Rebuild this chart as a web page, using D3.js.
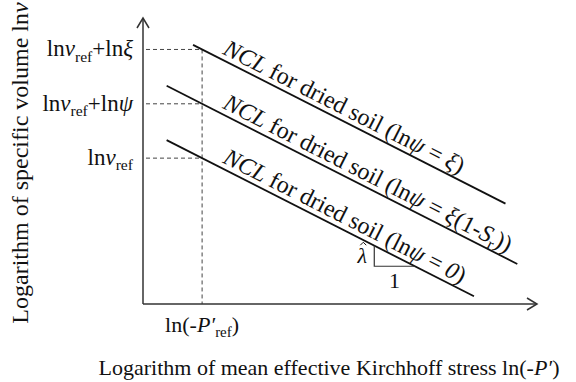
<!DOCTYPE html>
<html>
<head>
<meta charset="utf-8">
<script src="https://d3js.org/d3.v7.min.js"></script>
<style>
  body { margin: 0; background: white; }
  text { font-family: "Liberation Serif", "Times New Roman", serif; fill: #111; }
  .ncl { stroke: #111; stroke-width: 1.8px; fill: none; }
  .guide { stroke: #444; stroke-width: 1px; stroke-dasharray: 4,3; fill: none; }
  .axis { stroke: #333; stroke-width: 1.5px; fill: none; }
</style>
</head>
<body>
<div id="chart"></div>
<script>
// schematic values (arbitrary units)
var xRef = 1.5;          // ln(-P'ref)
var lambda = 0.7;        // slope of NCLs
var refValues = [8.9, 7.0, 5.1];   // ln v at xRef for each NCL (top to bottom)
var lineStart = [1.27, 0.6, 0.6];
var lineEnd = [9.2, 9.5, 8.4];
var labelStart = 2.0;
var tickParts = [
  [["ln", ""], ["ν", "it"], ["ref", "sub"], ["+ln", ""], ["ξ", "it"]],
  [["ln", ""], ["ν", "it"], ["ref", "sub"], ["+ln", ""], ["ψ", "it"]],
  [["ln", ""], ["ν", "it"], ["ref", "sub"]]
];
var nclLabels = [
  [["NCL", "it"], [" for dried soil (ln", ""], ["ψ", "it"], [" = ", ""], ["ξ", "it"], [")", ""]],
  [["NCL", "it"], [" for dried soil (ln", ""], ["ψ", "it"], [" = ", ""], ["ξ", "it"], ["(1-", ""], ["S", "it"], ["r", "sub"], ["))", ""]],
  [["NCL", "it"], [" for dried soil (ln", ""], ["ψ", "it"], [" = ", ""], ["0", "it"], [")", ""]]
];

var width = 576, height = 382;
var x = d3.scaleLinear().domain([0, 10]).range([143, 537]);
var y = d3.scaleLinear().domain([0, 10]).range([304, 18]);

var svg = d3.select('#chart').append('svg')
  .attr('width', width).attr('height', height);

function addParts(t, parts, size) {
  var shifted = false;
  parts.forEach(function (p) {
    var ts = t.append('tspan').text(p[0]);
    if (p[1] === 'it') ts.style('font-style', 'italic');
    if (p[1] === 'sub') {
      ts.attr('dy', size * 0.22).style('font-size', (size * 0.68) + 'px');
      shifted = true;
    } else if (shifted) {
      ts.attr('dy', -size * 0.22);
      shifted = false;
    }
  });
}

function lnv(i, xv) { return refValues[i] - lambda * (xv - xRef); }

// guides
refValues.forEach(function (v) {
  svg.append('line').attr('class', 'guide')
    .attr('x1', x(0) + 3).attr('x2', x(xRef))
    .attr('y1', y(v)).attr('y2', y(v));
});
svg.append('line').attr('class', 'guide')
  .attr('x1', x(xRef)).attr('x2', x(xRef))
  .attr('y1', y(refValues[0])).attr('y2', y(0));

// axes with open arrows
svg.append('path').attr('class', 'axis')
  .attr('d', 'M' + x(0) + ',' + y(0) + 'H' + x(10));
svg.append('path').attr('class', 'axis')
  .attr('d', 'M' + x(0) + ',' + y(0) + 'V' + y(10));
svg.append('path').attr('class', 'axis')
  .attr('d', 'M' + (x(10) - 10) + ',' + (y(0) - 6) + 'L' + x(10) + ',' + y(0) + 'L' + (x(10) - 10) + ',' + (y(0) + 6));
svg.append('path').attr('class', 'axis')
  .attr('d', 'M' + (x(0) - 6) + ',' + (y(10) + 10) + 'L' + x(0) + ',' + y(10) + 'L' + (x(0) + 6) + ',' + (y(10) + 10));

// NCL lines
refValues.forEach(function (v, i) {
  svg.append('line').attr('class', 'ncl')
    .attr('x1', x(lineStart[i])).attr('y1', y(lnv(i, lineStart[i])))
    .attr('x2', x(lineEnd[i])).attr('y2', y(lnv(i, lineEnd[i])));
});

var angle = Math.atan2(y(lnv(0, 1)) - y(lnv(0, 0)), x(1) - x(0)) * 180 / Math.PI;

nclLabels.forEach(function (parts, i) {
  var t = svg.append('text')
    .attr('transform', 'translate(' + x(labelStart) + ',' + (y(lnv(i, labelStart)) - 6) + ') rotate(' + angle + ')')
    .style('font-size', '24px');
  addParts(t, parts, 24);
});

// slope triangle
var tx0 = 5.87, tx1 = 6.9;
var l3 = 2;
svg.append('path').attr('stroke', '#333').attr('stroke-width', 1.2).attr('fill', 'none')
  .attr('d', 'M' + x(tx0) + ',' + y(lnv(l3, tx0)) + 'V' + y(lnv(l3, tx1)) + 'H' + x(tx1));
var lx = x(tx0) - 12, ly = y(lnv(l3, tx1)) - 3;
svg.append('text').attr('x', lx).attr('y', ly)
  .attr('text-anchor', 'middle').style('font-size', '22px').style('font-style', 'italic').text('λ');
svg.append('path').attr('stroke', '#111').attr('stroke-width', 1).attr('fill', 'none')
  .attr('d', 'M' + (lx - 2) + ',' + (ly - 18) + 'L' + (lx + 1) + ',' + (ly - 21) + 'L' + (lx + 4) + ',' + (ly - 18));
svg.append('text').attr('x', (x(tx0) + x(tx1)) / 2).attr('y', y(lnv(l3, tx1)) + 22)
  .attr('text-anchor', 'middle').style('font-size', '22px').text('1');

// y tick labels
tickParts.forEach(function (parts, i) {
  var t = svg.append('text').attr('x', x(0) - 10).attr('y', y(refValues[i]) + 7)
    .attr('text-anchor', 'end').style('font-size', '23px');
  addParts(t, parts, 23);
});

// x tick label
var xt = svg.append('text').attr('x', x(xRef)).attr('y', y(0) + 28)
  .attr('text-anchor', 'middle').style('font-size', '22px');
addParts(xt, [["ln(-", ""], ["P′", "it"], ["ref", "sub"], [")", ""]], 22);

// axis titles
var xtl = svg.append('text').attr('x', 329).attr('y', 375)
  .attr('text-anchor', 'middle').style('font-size', '22px');
addParts(xtl, [["Logarithm of mean effective Kirchhoff stress ln(-", ""], ["P′", "it"], [")", ""]], 22);

var ytl = svg.append('text').attr('transform', 'translate(28,163) rotate(-90)')
  .attr('text-anchor', 'middle').style('font-size', '24px');
addParts(ytl, [["Logarithm of specific volume ln", ""], ["ν", "it"]], 24);
</script>
</body>
</html>
